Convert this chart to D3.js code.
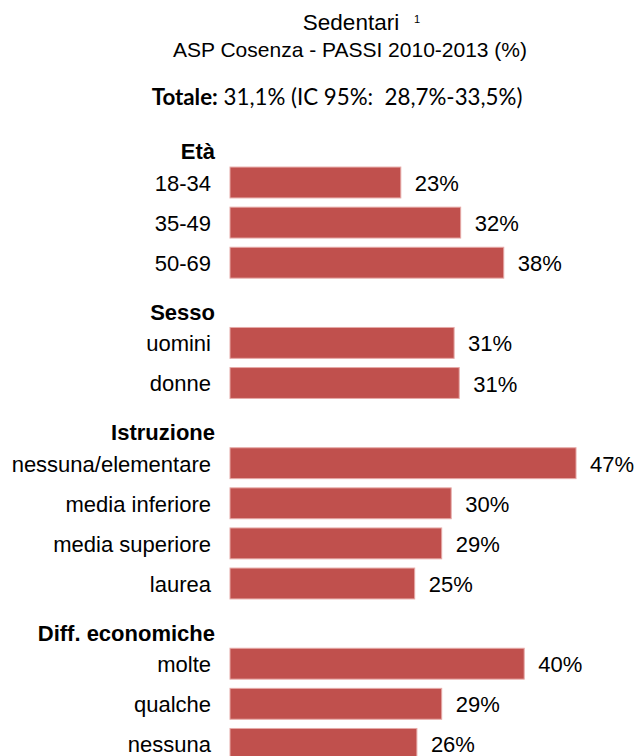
<!DOCTYPE html>
<html>
<head>
<meta charset="utf-8">
<script src="https://cdn.jsdelivr.net/npm/d3@7"></script>
<style>
  html, body { margin: 0; padding: 0; background: #fff; }
  svg { display: block; }
</style>
</head>
<body>
<script>
const titleText = "Sedentari";
const titleNote = "1";
const subtitleText = "ASP Cosenza - PASSI 2010-2013 (%)";
const totalLabel = "Totale:";
const totalText = " 31,1% (IC 95%:  28,7%-33,5%)";

const headers = ["Età", "Sesso", "Istruzione", "Diff. economiche"];
const categories = ["18-34", "35-49", "50-69", "uomini", "donne",
  "nessuna/elementare", "media inferiore", "media superiore", "laurea",
  "molte", "qualche", "nessuna"];
const groupIndex = [0, 0, 0, 1, 1, 2, 2, 2, 2, 3, 3, 3];
const values = [23.4, 31.6, 37.5, 30.7, 31.4, 47.4, 30.3, 29.0, 25.3, 40.3, 29.0, 25.6];
const valueLabels = ["23%", "32%", "38%", "31%", "31%", "47%", "30%", "29%", "25%", "40%", "29%", "26%"];

const W = 636, H = 756;
const svg = d3.select("body").append("svg").attr("width", W).attr("height", H);
const FONT = "'Liberation Sans', Arial, Helvetica, sans-serif";

// build rows: header row followed by its items
const rows = [];
headers.forEach((h, gi) => {
  rows.push({ id: "h" + gi, type: "header", label: h });
  categories.forEach((c, i) => {
    if (groupIndex[i] === gi) rows.push({ id: "c" + i, type: "item", label: c, value: values[i], text: valueLabels[i] });
  });
});

const step = 40.1;
const y0 = 142.4 - step / 2;
const y = d3.scaleBand()
  .domain(rows.map(r => r.id))
  .range([y0, y0 + step * rows.length])
  .paddingInner(0.23)
  .paddingOuter(0.115);

const x = d3.scaleLinear().domain([0, 50]).range([230, 230 + 50 * 7.3]);

// Titles
const title = svg.append("text")
  .attr("x", 351).attr("y", 30)
  .attr("text-anchor", "middle")
  .attr("font-family", FONT).attr("font-size", 22.5).attr("fill", "#000")
  .text(titleText);
svg.append("text")
  .attr("x", 414).attr("y", 23)
  .attr("font-family", FONT).attr("font-size", 11).attr("fill", "#000")
  .text(titleNote);
svg.append("text")
  .attr("x", 350).attr("y", 57)
  .attr("text-anchor", "middle")
  .attr("font-family", FONT).attr("font-size", 21).attr("fill", "#000")
  .text(subtitleText);

// Totale line (Calibri-like)
const tot = svg.append("text")
  .attr("x", 151.7).attr("y", 105)
  .attr("font-family", "Lato, 'Open Sans', sans-serif").attr("font-size", 21).attr("fill", "#000")
  .attr("xml:space", "preserve").style("white-space", "pre");
tot.append("tspan").attr("font-weight", "bold").text(totalLabel);
tot.append("tspan").text(totalText);
const tw = tot.node().getComputedTextLength();
const targetW = 371;
if (tw > 0) tot.attr("font-size", 21 * targetW / tw);

const g = svg.append("g");

// bars
const items = rows.filter(r => r.type === "item");
g.selectAll("rect.bar").data(items).join("rect")
  .attr("class", "bar")
  .attr("x", x(0))
  .attr("y", d => y(d.id))
  .attr("width", d => x(d.value) - x(0))
  .attr("height", y.bandwidth())
  .attr("fill", "#C0504D")
  .attr("stroke", "#E6A9A7")
  .attr("stroke-width", 1);

// category labels
g.selectAll("text.cat").data(items).join("text")
  .attr("class", "cat")
  .attr("x", 211)
  .attr("y", d => y(d.id) + y.bandwidth() / 2 + 8.3)
  .attr("text-anchor", "end")
  .attr("font-family", FONT).attr("font-size", 22).attr("fill", "#000")
  .text(d => d.label);

// header labels
g.selectAll("text.hdr").data(rows.filter(r => r.type === "header")).join("text")
  .attr("class", "hdr")
  .attr("x", 215)
  .attr("y", d => y(d.id) + y.bandwidth() / 2 + 17)
  .attr("text-anchor", "end")
  .attr("font-family", FONT).attr("font-size", 22).attr("font-weight", "bold").attr("fill", "#000")
  .text(d => d.label);

// value labels
g.selectAll("text.val").data(items).join("text")
  .attr("class", "val")
  .attr("x", d => x(d.value) + 14)
  .attr("y", d => y(d.id) + y.bandwidth() / 2 + 8.5)
  .attr("font-family", FONT).attr("font-size", 22).attr("fill", "#000")
  .text(d => d.text);
</script>
</body>
</html>
